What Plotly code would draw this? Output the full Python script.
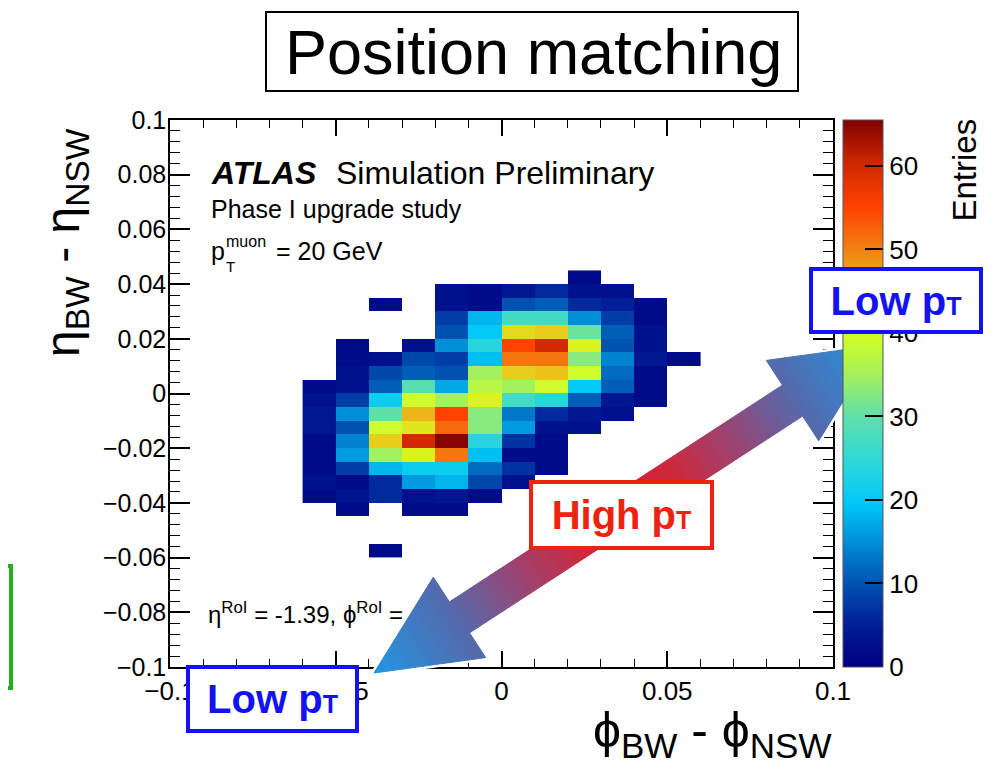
import math
import plotly.graph_objects as go

# ---------------- data ----------------
phi_centres = [-0.055, -0.045, -0.035, -0.025, -0.015, -0.005,
               0.005, 0.015, 0.025, 0.035, 0.045, 0.055]
eta_centres = [0.0425, 0.0375, 0.0325, 0.0275, 0.0225, 0.0175, 0.0125,
               0.0075, 0.0025, -0.0025, -0.0075, -0.0125, -0.0175,
               -0.0225, -0.0275, -0.0325, -0.0375, -0.0425, -0.0475,
               -0.0525, -0.0575]
N = None
entries = [
    [N, N, N, N, N, N, N, N, 2, N, N, N],
    [N, N, N, N, 3, 2, 4, 6, 3, 3, N, N],
    [N, N, 2, N, 3, 2, 10, 11, 6, 5, 2, N],
    [N, N, N, N, 8, 18, 27, 27, 15, 8, 2, N],
    [N, N, N, N, 10, 20, 43, 44, 31, 11, 3, N],
    [N, 2, N, 3, 15, 24, 55, 60, 41, 10, 3, N],
    [N, 2, 3, 9, 8, 19, 51, 51, 33, 14, 4, 2],
    [N, 3, 9, 11, 10, 35, 44, 45, 39, 12, 2, N],
    [2, 3, 11, 29, 17, 37, 35, 39, 20, 11, 2, N],
    [3, 8, 21, 39, 35, 41, 27, 24, 11, 4, 2, N],
    [4, 15, 30, 46, 55, 33, 13, 6, 4, 3, N, N],
    [4, 10, 39, 42, 52, 33, 16, 3, 3, N, N, N],
    [2, 14, 44, 60, 65, 24, 7, 2, N, N, N, N],
    [2, 16, 35, 41, 51, 19, 2, 2, N, N, N, N],
    [2, 8, 18, 21, 21, 12, 7, 2, N, N, N, N],
    [3, 2, 6, 16, 18, 9, 3, N, N, N, N, N],
    [2, 3, 6, 3, 4, 2, N, N, N, N, N, N],
    [N, 2, N, 2, 2, N, N, N, N, N, N, N],
    [N, N, N, N, N, N, N, N, N, N, N, N],
    [N, N, N, N, N, N, N, N, N, N, N, N],
    [N, N, 2, N, N, N, N, N, N, N, N, N],
]
colorbar_ticks = [0, 10, 20, 30, 40, 50, 60]
z_max = 65.5

# ---------------- styling ----------------
FONT = "Liberation Sans"
# the page body adds an 8 px margin, so the figure is 8 px smaller each way
W, H = 990, 772
L_M, R_M, T_M, B_M = 162, 165, 112, 113
PW = W - L_M - R_M
PH = H - T_M - B_M
OFF = 8


def fx(px):  # px: x position on the final page
    return (px - OFF - L_M) / PW


def fy(py):  # py: y position on the final page
    return (H - B_M - (py - OFF)) / PH


rainbow = [
    [0.00, "#000080"], [0.07, "#001a95"], [0.15, "#0050b0"],
    [0.23, "#0090d8"], [0.30, "#00c8f8"], [0.38, "#30d8d8"],
    [0.46, "#60e0a8"], [0.53, "#a0f060"], [0.61, "#d8ff20"],
    [0.69, "#ecc018"], [0.76, "#f28414"], [0.84, "#ff4200"],
    [0.92, "#d02800"], [1.00, "#800000"],
]

fig = go.Figure()
fig.add_trace(go.Heatmap(
    x=phi_centres, y=eta_centres, z=entries,
    colorscale=rainbow, zmin=0, zmax=z_max, zsmooth=False,
    hoverongaps=False,
    colorbar=dict(
        thickness=40, thicknessmode="pixels", len=1, lenmode="fraction",
        x=1.0, xanchor="left", xpad=10, y=0.5, yanchor="middle", ypad=0,
        tickvals=colorbar_ticks, ticks="inside", ticklen=18, tickwidth=1.5,
        tickcolor="black", tickfont=dict(family=FONT, size=26, color="black"),
        outlinewidth=1, outlinecolor="#555",
    ),
))

axis_common = dict(
    showgrid=False, zeroline=False, showline=True, linecolor="black",
    linewidth=1.5, mirror="ticks", ticks="inside", tickcolor="black",
    tickwidth=1.5,
)
fig.update_xaxes(range=[-0.1, 0.1], dtick=0.05, tick0=0, ticklen=16,
                 tickfont=dict(family=FONT, size=26, color="black"),
                 minor=dict(dtick=0.01, ticks="inside", ticklen=8,
                            tickwidth=1, tickcolor="black"),
                 **axis_common)
fig.update_yaxes(range=[-0.1, 0.1], dtick=0.02, tick0=0, ticklen=20,
                 tickfont=dict(family=FONT, size=25, color="black"),
                 ticklabelstandoff=-3,
                 minor=dict(dtick=0.004, ticks="inside", ticklen=10,
                            tickwidth=1, tickcolor="black"),
                 **axis_common)

# ---------------- double arrow with gradient ----------------
shapes = []
tip_a = (374.0, 673.0)
tip_b = (878.0, 345.0)
dx, dy = tip_b[0] - tip_a[0], tip_b[1] - tip_a[1]
LEN = math.hypot(dx, dy)
ux, uy = dx / LEN, dy / LEN
nx, ny = -uy, ux
HEAD_L, HEAD_W, SHAFT_W = 102.0, 48.0, 18.5


def pt(t, w):
    return (tip_a[0] + ux * t + nx * w, tip_a[1] + uy * t + ny * w)


def path(points):
    s = "M " + " L ".join(f"{fx(p[0]):.5f},{fy(p[1]):.5f}" for p in points)
    return s + " Z"


grad = [(0, (33, 150, 227)), (100, (85, 105, 172)), (180, (160, 65, 110)),
        (240, (205, 40, 60)), (LEN / 2, (215, 30, 45))]


def col(t):
    s = min(t, LEN - t)
    for (s0, c0), (s1, c1) in zip(grad[:-1], grad[1:]):
        if s <= s1:
            f = (s - s0) / (s1 - s0) if s1 > s0 else 0
            c = [round(a + (b - a) * f) for a, b in zip(c0, c1)]
            return f"rgb({c[0]},{c[1]},{c[2]})"
    c = grad[-1][1]
    return f"rgb({c[0]},{c[1]},{c[2]})"


outline = [tip_a, pt(HEAD_L, HEAD_W), pt(HEAD_L, SHAFT_W),
           pt(LEN - HEAD_L, SHAFT_W), pt(LEN - HEAD_L, HEAD_W), tip_b,
           pt(LEN - HEAD_L, -HEAD_W), pt(LEN - HEAD_L, -SHAFT_W),
           pt(HEAD_L, -SHAFT_W), pt(HEAD_L, -HEAD_W)]
shapes.append(dict(type="path", xref="paper", yref="paper", path=path(outline),
                   fillcolor="white", line=dict(color="white", width=6),
                   layer="above"))

segs = []
n_h, n_s = 12, 40
for i in range(n_h):
    t0, t1 = HEAD_L * i / n_h, HEAD_L * (i + 1) / n_h
    segs.append((t0, t1, HEAD_W * t0 / HEAD_L, HEAD_W * t1 / HEAD_L))
for i in range(n_s):
    t0 = HEAD_L + (LEN - 2 * HEAD_L) * i / n_s
    t1 = HEAD_L + (LEN - 2 * HEAD_L) * (i + 1) / n_s
    segs.append((t0, t1, SHAFT_W, SHAFT_W))
for i in range(n_h):
    t0 = LEN - HEAD_L + HEAD_L * i / n_h
    t1 = LEN - HEAD_L + HEAD_L * (i + 1) / n_h
    segs.append((t0, t1, HEAD_W * (LEN - t0) / HEAD_L, HEAD_W * (LEN - t1) / HEAD_L))
for t0, t1, w0, w1 in segs:
    c = col((t0 + t1) / 2)
    shapes.append(dict(type="path", xref="paper", yref="paper",
                       path=path([pt(t0, w0), pt(t1, w1), pt(t1, -w1), pt(t0, -w0)]),
                       fillcolor=c, line=dict(color=c, width=1), layer="above"))

# title box and green box
shapes.append(dict(type="rect", xref="paper", yref="paper",
                   x0=fx(266), x1=fx(798), y0=fy(12), y1=fy(91),
                   line=dict(color="black", width=2), fillcolor="white",
                   layer="above"))
shapes.append(dict(type="rect", xref="paper", yref="paper",
                   x0=fx(-20), x1=fx(11), y0=fy(566), y1=fy(688),
                   line=dict(color="#22b11b", width=4), fillcolor="white",
                   layer="above"))

# ---------------- annotations ----------------
ann = []


def text(px, py, s, size, xanchor="left", yanchor="middle", color="black", angle=0):
    ann.append(dict(x=fx(px), y=fy(py), xref="paper", yref="paper", text=s,
                    showarrow=False, xanchor=xanchor, yanchor=yanchor,
                    textangle=angle,
                    font=dict(family=FONT, size=size, color=color)))


text(533, 52, "Position matching", 63, xanchor="center")
text(209, 173, "<b><i>ATLAS</i></b>", 32)
text(334, 173, "Simulation Preliminary", 32)
text(209, 209, "Phase I upgrade study", 25)
text(209, 251, "p", 25)
text(224, 241, "muon", 16)
text(224, 266, "T", 15)
text(274, 251, "= 20 GeV", 25)
text(206, 613, "η<sup>RoI</sup> = -1.39, ϕ<sup>RoI</sup> =", 24)

# axis titles
text(66, 243, "η<sub>BW</sub> - η<sub>NSW</sub>", 48, xanchor="center", angle=-90)
text(834, 733, "ϕ<sub>BW</sub> - ϕ<sub>NSW</sub>", 50, xanchor="right")
text(964, 117, "Entries", 33, xanchor="center", yanchor="top", angle=-90)


def boxed(cx, cy, w, h, s, color):
    ann.append(dict(x=fx(cx), y=fy(cy), xref="paper", yref="paper", text=s,
                    showarrow=False, xanchor="center", yanchor="middle",
                    font=dict(family=FONT, size=40, color=color),
                    bordercolor=color, borderwidth=4, borderpad=0,
                    bgcolor="white", width=w - 4, height=h - 4,
                    align="center", valign="middle"))


low = "<b>Low p<span style='font-size:25px'>T</span></b>"
high = "<b>High p<span style='font-size:25px'>T</span></b>"
boxed(896, 300, 170, 63, low, "#1212f2")
boxed(621.5, 515, 181, 66, high, "#ee2211")
boxed(272.5, 699, 169, 64, low, "#1212f2")

fig.update_layout(
    width=W, height=H, autosize=False,
    margin=dict(l=L_M, r=R_M, t=T_M, b=B_M, autoexpand=False),
    paper_bgcolor="white", plot_bgcolor="white",
    font=dict(family=FONT, color="black"),
    shapes=shapes, annotations=ann, showlegend=False,
)

fig.write_html("out.html")
